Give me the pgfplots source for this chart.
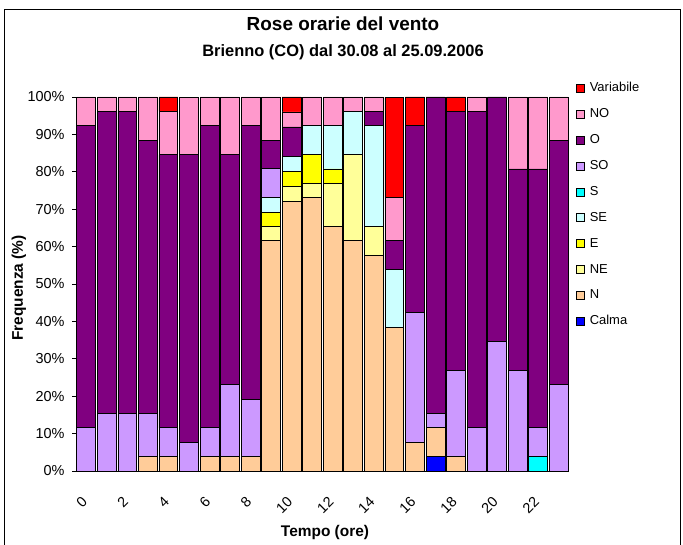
\documentclass[border=0pt]{standalone}
\usepackage{fontspec}
\setmainfont{Liberation Sans}
\usepackage{pgfplots}
\usepackage{pgfplotstable}
\pgfplotsset{compat=1.18}

\definecolor{cCalma}{RGB}{0,0,255}
\definecolor{cN}{RGB}{255,204,153}
\definecolor{cNE}{RGB}{255,255,153}
\definecolor{cE}{RGB}{255,255,0}
\definecolor{cSE}{RGB}{204,255,255}
\definecolor{cS}{RGB}{0,255,255}
\definecolor{cSO}{RGB}{204,153,255}
\definecolor{cO}{RGB}{128,0,128}
\definecolor{cNO}{RGB}{255,153,204}
\definecolor{cVar}{RGB}{255,0,0}

% frequenze orarie (%) per direzione
\pgfplotstableread{
ora Calma N     NE    E    SE    S    SO    O     NO    Var
0   0     0     0     0    0     0    11.54 80.77 7.69  0
1   0     0     0     0    0     0    15.38 80.77 3.85  0
2   0     0     0     0    0     0    15.38 80.77 3.85  0
3   0     3.85  0     0    0     0    11.54 73.08 11.54 0
4   0     3.85  0     0    0     0    7.69  73.08 11.54 3.85
5   0     0     0     0    0     0    7.69  76.92 15.38 0
6   0     3.85  0     0    0     0    7.69  80.77 7.69  0
7   0     3.85  0     0    0     0    19.23 61.54 15.38 0
8   0     3.85  0     0    0     0    15.38 73.08 7.69  0
9   0     61.54 3.85  3.85 3.85  0    7.69  7.69  11.54 0
10  0     72    4     4    4     0    0     8     4     4
11  0     73.08 3.85  7.69 7.69  0    0     0     7.69  0
12  0     65.38 11.54 3.85 11.54 0    0     0     7.69  0
13  0     61.54 23.08 0    11.54 0    0     0     3.85  0
14  0     57.69 7.69  0    26.92 0    0     3.85  3.85  0
15  0     38.46 0     0    15.38 0    0     7.69  11.54 26.92
16  0     7.69  0     0    0     0    34.62 50    0     7.69
17  3.85  7.69  0     0    0     0    3.85  84.62 0     0
18  0     3.85  0     0    0     0    23.08 69.23 0     3.85
19  0     0     0     0    0     0    11.54 84.62 3.85  0
20  0     0     0     0    0     0    34.62 65.38 0     0
21  0     0     0     0    0     0    26.92 53.85 19.23 0
22  0     0     0     0    0     3.85 7.69  69.23 19.23 0
23  0     0     0     0    0     0    23.08 65.38 11.54 0
}\rose

\begin{document}
\begin{tikzpicture}[x=1bp,y=1bp]
\useasboundingbox (0,0) rectangle (683,-545);
\draw[black, line width=0.8bp] (4,-546) -- (4,-9) -- (680,-9) -- (680,-546);
\node[font=\fontsize{19}{21}\selectfont\bfseries, anchor=base] at (343,-31) {Rose orarie del vento};
\node[font=\fontsize{16.5}{18}\selectfont\bfseries, anchor=base] at (343,-57) {Brienno (CO) dal 30.08 al 25.09.2006};
\node[font=\fontsize{15.5}{17}\selectfont\bfseries, rotate=90] at (19,-288) {Frequenza (\%)};
\node[font=\fontsize{15.5}{17}\selectfont\bfseries] at (325,-533) {Tempo (ore)};
\begin{axis}[
  at={(76bp,-471bp)}, anchor=south west,
  scale only axis, width=493bp, height=374bp,
  ybar stacked, bar width=0.92,
  xmin=-0.5, xmax=23.5, ymin=0, ymax=100,
  axis x line*=bottom, axis y line*=left,
  axis line style={-, black, line width=0.8bp},
  /pgf/number format/assume math mode=true,
  tick align=outside,
  major tick length=4bp, minor tick length=5bp,
  xtick={0,2,...,22},
  x tick style={draw=none},
  minor xtick={-0.5,0.5,...,23.5},
  minor tick style={black, line width=0.8bp},
  ytick={0,10,...,100},
  y tick style={black, line width=0.8bp},
  yticklabel={\pgfmathprintnumber{\tick}\%},
  xticklabel style={rotate=45, anchor=east, font=\fontsize{14.5}{16}\selectfont, xshift=-15bp, yshift=-16bp},
  yticklabel style={font=\fontsize{14.5}{16}\selectfont, xshift=-4bp},
  every axis plot/.append style={draw=black, line width=0.8bp},
  reverse legend,
  legend cell align=left,
  legend image code/.code={\draw[#1, line width=0.6bp] (0bp,-4bp) rectangle (8bp,4bp);},
  legend style={at={(1,1)}, anchor=north west, xshift=7bp, yshift=16.5bp,
    draw=none, fill=none, inner sep=0pt, row sep=10.9bp,
    font=\fontsize{13}{15}\selectfont,
    /tikz/every odd column/.append style={column sep=4bp},
    nodes={inner sep=1bp, text height=10bp, text depth=3bp}},
]
\addplot[fill=cCalma] table[x=ora, y=Calma] {\rose};
\addplot[fill=cN]     table[x=ora, y=N]     {\rose};
\addplot[fill=cNE]    table[x=ora, y=NE]    {\rose};
\addplot[fill=cE]     table[x=ora, y=E]     {\rose};
\addplot[fill=cSE]    table[x=ora, y=SE]    {\rose};
\addplot[fill=cS]     table[x=ora, y=S]     {\rose};
\addplot[fill=cSO]    table[x=ora, y=SO]    {\rose};
\addplot[fill=cO]     table[x=ora, y=O]     {\rose};
\addplot[fill=cNO]    table[x=ora, y=NO]    {\rose};
\addplot[fill=cVar]   table[x=ora, y=Var]   {\rose};
\legend{Calma,N,NE,E,SE,S,SO,O,NO,Variabile}
\end{axis}
\end{tikzpicture}
\end{document}
